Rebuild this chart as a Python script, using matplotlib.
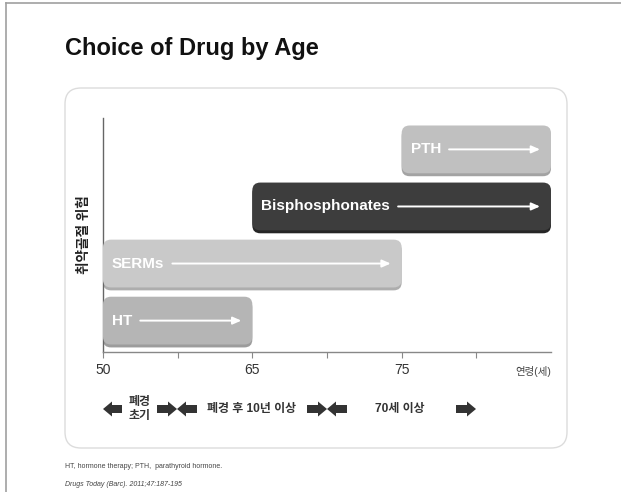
import matplotlib
matplotlib.use("Agg")
import matplotlib.pyplot as plt
from matplotlib.patches import FancyBboxPatch, Polygon
from matplotlib.lines import Line2D

plt.rcParams['font.family'] = ['Liberation Sans', 'Noto Sans CJK KR', 'DejaVu Sans']

# ---- data ----
drugs = ["HT", "SERMs", "Bisphosphonates", "PTH"]
start_pos = [0, 0, 2, 4]          # position on the age scale (tick index)
end_pos = [2, 4, 6, 6]
bar_colors = ["#b5b5b5", "#c9c9c9", "#3d3d3d", "#c0c0c0"]
shadow_colors = ["#9c9c9c", "#adadad", "#262626", "#a3a3a3"]
tick_labels = ["50", "", "65", "", "75", ""]
axis_unit = "연령(세)"
y_label = "취약골절 위험"
title = "Choice of Drug by Age"
period_labels = ["폐경\n초기", "폐경 후 10년 이상", "70세 이상"]
footnote1 = "HT, hormone therapy; PTH,  parathyroid hormone."
footnote2 = "Drugs Today (Barc). 2011;47:187-195"

W, H = 621, 492
fig = plt.figure(figsize=(W / 100, H / 100), dpi=100)
fig.patch.set_facecolor("white")

# overlay axes in pixel coordinates for the slide decorations
ov = fig.add_axes([0, 0, 1, 1])
ov.set_xlim(0, W)
ov.set_ylim(H, 0)
ov.axis("off")

# slide frame lines
ov.add_line(Line2D([6, W], [3, 3], color="#a0a0a0", lw=1.2))
ov.add_line(Line2D([6, 6], [3, H], color="#a0a0a0", lw=1.2))

# rounded panel
panel = FancyBboxPatch((65, 88), 502, 360, boxstyle="round,pad=0,rounding_size=16",
                       facecolor="white", edgecolor="#dcdcdc", lw=1.0)
ov.add_patch(panel)

ov.text(65, 48, title, fontsize=17, fontweight="bold", color="#111111",
        ha="left", va="center")

ov.text(65, 467, footnote1, fontsize=5, color="#444444", ha="left", va="center")
ov.text(65, 484, footnote2, fontsize=5, color="#444444", ha="left", va="center",
        style="italic")

# ---- main chart axes ----
L, R, T, B = 103, 551, 118, 352
ax = fig.add_axes([L / W, (H - B) / H, (R - L) / W, (B - T) / H])
ax.set_facecolor("none")
ax.set_xlim(0, 6)
ax.set_ylim(-0.55, len(drugs) - 0.45)
for s in ["top", "right"]:
    ax.spines[s].set_visible(False)
ax.spines["left"].set_color("#666666")
ax.spines["bottom"].set_color("#888888")
ax.spines["left"].set_linewidth(1.0)
ax.spines["bottom"].set_linewidth(1.0)
ax.set_yticks([])
ax.set_xticks(range(len(tick_labels)))
ax.set_xticklabels(tick_labels, fontsize=10, color="#333333")
ax.tick_params(axis="x", length=4, width=0.8, color="#888888", pad=4)
ax.set_ylabel(y_label, fontsize=9.8, fontweight="bold", color="#222222", labelpad=4)
ax.yaxis.set_label_coords(-0.027, 0.5)
ax.text(6, -0.8, axis_unit, fontsize=7.5, color="#444444", ha="right", va="top",
        transform=ax.transData, clip_on=False)

px_x = (R - L) / 6.0
px_y = (B - T) / len(drugs)
aspect = px_x / px_y
bh = 49 / px_y
rs = 8 / px_x
shadow_off = 3 / px_y

fig.canvas.draw()
renderer = fig.canvas.get_renderer()
inv = ax.transData.inverted()

for i, d in enumerate(drugs):
    x0, x1 = start_pos[i], end_pos[i]
    sh = FancyBboxPatch((x0, i - bh / 2 - shadow_off), x1 - x0, bh,
                        boxstyle=f"round,pad=0,rounding_size={rs}",
                        mutation_aspect=aspect, facecolor=shadow_colors[i],
                        edgecolor="none", zorder=2, clip_on=False)
    ax.add_patch(sh)
    bx = FancyBboxPatch((x0, i - bh / 2), x1 - x0, bh,
                        boxstyle=f"round,pad=0,rounding_size={rs}",
                        mutation_aspect=aspect, facecolor=bar_colors[i],
                        edgecolor="none", zorder=3, clip_on=False)
    ax.add_patch(bx)
    tx = x0 + 9 / px_x
    t = ax.text(tx, i, d, fontsize=11, fontweight="bold", color="white",
                ha="left", va="center", zorder=4)
    bb = t.get_window_extent(renderer)
    xe = inv.transform((bb.x1, 0))[0]
    ax.annotate("", xy=(x1 - 11 / px_x, i), xytext=(xe + 8 / px_x, i),
                arrowprops=dict(arrowstyle="-|>,head_length=0.5,head_width=0.22",
                                color="white", lw=1.4, shrinkA=0, shrinkB=0),
                zorder=5)

# ---- bottom period arrows ----
ay = 409
def block_arrow(tail, tip):
    direction = 1 if tip > tail else -1
    head = 9 * direction
    pts = [(tail, ay - 4), (tip - head, ay - 4), (tip - head, ay - 7.5),
           (tip, ay), (tip - head, ay + 7.5), (tip - head, ay + 4), (tail, ay + 4)]
    ov.add_patch(Polygon(pts, closed=True, facecolor="#333333", edgecolor="none"))

block_arrow(122, 103)
block_arrow(157, 177)
block_arrow(197, 177)
block_arrow(307, 327)
block_arrow(347, 327)
block_arrow(456, 476)

ov.text(140, 409, period_labels[0], fontsize=8.6, fontweight="bold", color="#333333",
        ha="center", va="center", linespacing=1.2)
ov.text(252, 409, period_labels[1], fontsize=8.6, fontweight="bold", color="#333333",
        ha="center", va="center")
ov.text(400, 409, period_labels[2], fontsize=8.6, fontweight="bold", color="#333333",
        ha="center", va="center")

fig.savefig("out.png", dpi=100)
